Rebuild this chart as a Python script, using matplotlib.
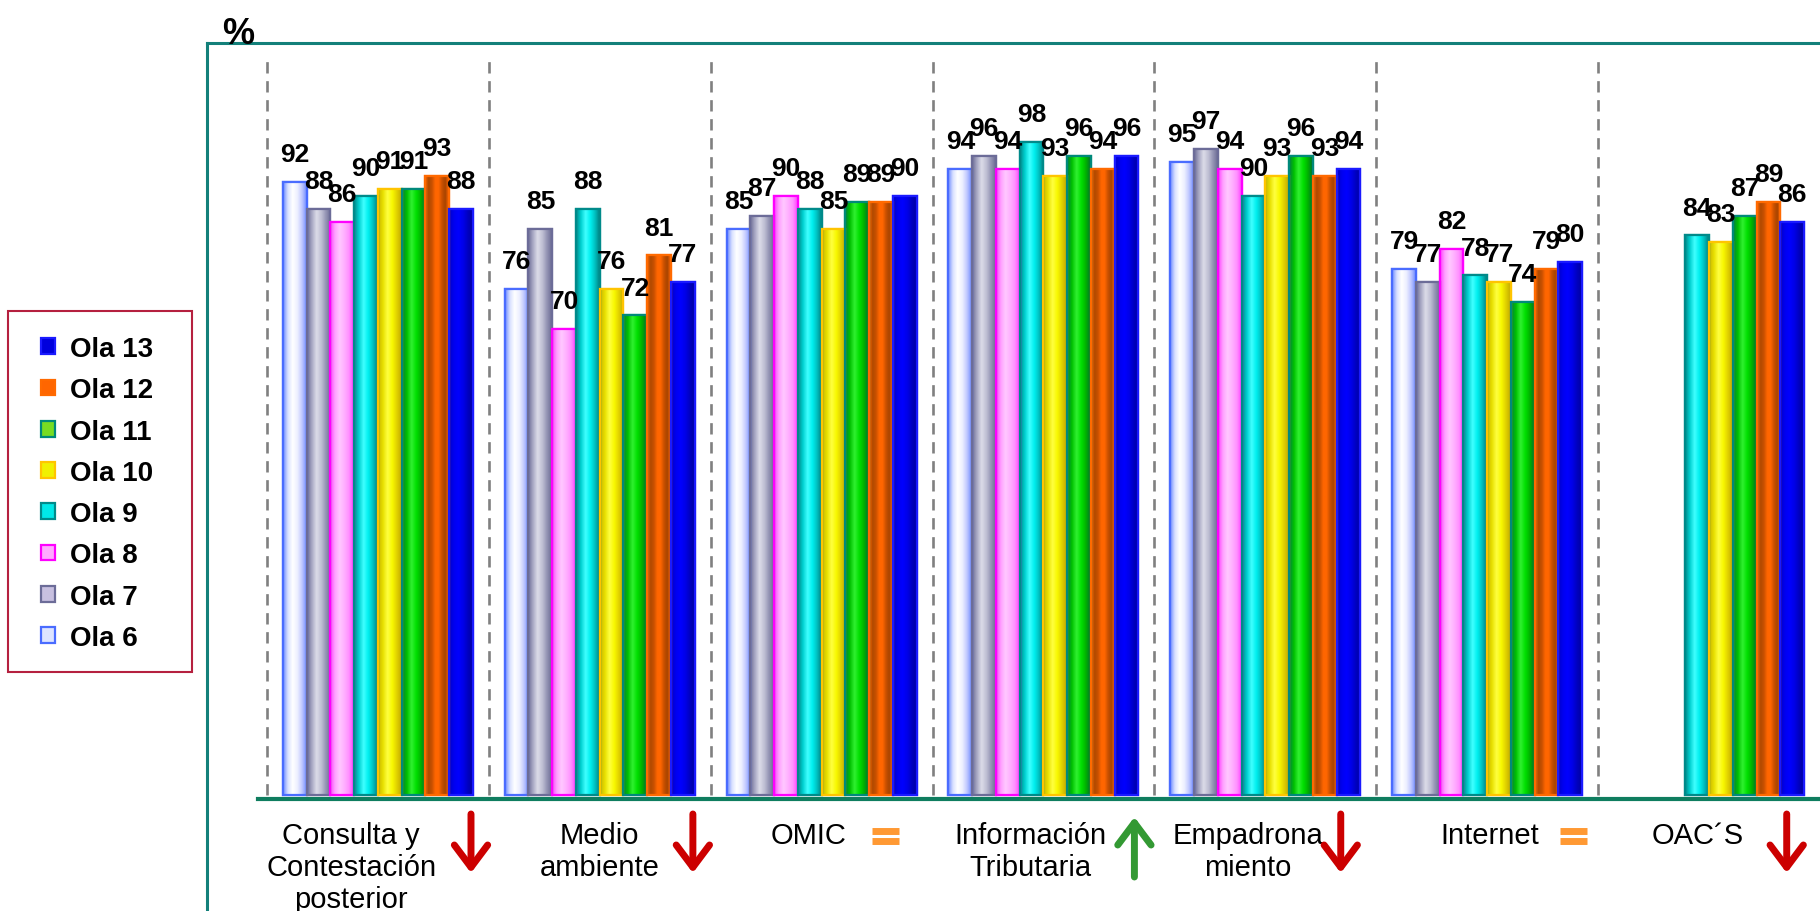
import numpy as np
import matplotlib
matplotlib.use('Agg')
import matplotlib.pyplot as plt
from matplotlib.colors import LinearSegmentedColormap
from matplotlib.lines import Line2D
from matplotlib.patches import Rectangle
from matplotlib.transforms import blended_transform_factory

plt.rcParams['font.family'] = ['Liberation Sans', 'DejaVu Sans']

# datos
categories = ['Consulta y\nContestación\nposterior', 'Medio\nambiente', 'OMIC',
              'Información\nTributaria', 'Empadrona\nmiento', 'Internet', 'OAC´S']
waves = ['Ola 6', 'Ola 7', 'Ola 8', 'Ola 9', 'Ola 10', 'Ola 11', 'Ola 12', 'Ola 13']
ola6 = [92, 76, 85, 94, 95, 79, np.nan]
ola7 = [88, 85, 87, 96, 97, 77, np.nan]
ola8 = [86, 70, 90, 94, 94, 82, np.nan]
ola9 = [90, 88, 88, 98, 90, 78, 84]
ola10 = [91, 76, 85, 93, 93, 77, 83]
ola11 = [91, 72, 89, 96, 96, 74, 87]
ola12 = [93, 81, 89, 94, 93, 79, 89]
ola13 = [88, 77, 90, 96, 94, 80, 86]
trend = ['down', 'down', 'equal', 'up', 'down', 'equal', 'down']

series = [ola6, ola7, ola8, ola9, ola10, ola11, ola12, ola13]

# estilos
face = ['#dde4ff', '#c8c0e0', '#ffaaff', '#00e8e8', '#f0f000', '#77dd22', '#ff6600', '#0000dd']
edge = ['#4a6cff', '#6c6c98', '#ff00ff', '#008a8a', '#ffc400', '#00897a', '#ff6a00', '#1a1aff']
shades = [
    ['#6f8cff', '#d8e0ff', '#ffffff', '#eef0ff', '#c0c8ff', '#6f8cff'],
    ['#6c6c94', '#a8a8c4', '#dcdce8', '#c0c0d4', '#9494b4', '#6c6c94'],
    ['#ff40ff', '#ffa0ff', '#ffc8ff', '#ffb0ff', '#ff90ff', '#ff40ff'],
    ['#008c8c', '#00d0d0', '#40ffff', '#00f0f0', '#00c0c0', '#008080'],
    ['#c8b400', '#e8e000', '#ffff40', '#f8f800', '#e0d000', '#c0a800'],
    ['#008040', '#00c000', '#30f030', '#00e000', '#00b000', '#007030'],
    ['#ff6600', '#b04a00', '#c85000', '#ff6600', '#ff6600', '#c85000', '#a84400', '#ff6600'],
    ['#0000c8', '#0000f0', '#0000ff', '#0000e8', '#0000c0', '#0000a0'],
]
text_dx = [-0.12, 0.0, -0.06, -0.06, -0.08, 0.01, -0.05]
icon_dx = [0.42, 0.42, 0.29, 0.41, 0.34, 0.39, 0.35]

W, H = 1820, 912
fig = plt.figure(figsize=(W / 100, H / 100), dpi=100)
ax = fig.add_axes([258 / W, 1 - 800 / H, 1 - 258 / W, (800 - 44) / H])

bw = 0.107
x = np.arange(len(categories))
grad = np.linspace(0, 1, 64)[np.newaxis, :]
containers = []
for i, (name, vals) in enumerate(zip(waves, series)):
    xs = x + (i - 3.5) * bw
    bars = ax.bar(xs, vals, bw, color=face[i], edgecolor=edge[i], linewidth=1.6,
                  zorder=3, label=name)
    containers.append(bars)
    cmap = LinearSegmentedColormap.from_list(name, shades[i])
    for rect in bars:
        h = rect.get_height()
        if np.isnan(h):
            continue
        x0 = rect.get_x()
        im = ax.imshow(grad, cmap=cmap, extent=(x0, x0 + rect.get_width(), 0, h),
                       aspect='auto', interpolation='bilinear', zorder=3.2)
        im.set_clip_path(rect)
    ax.bar(xs, vals, bw, facecolor='none', edgecolor=edge[i], linewidth=1.6, zorder=3.4)
    for xv, v in zip(xs, vals):
        if np.isnan(v):
            continue
        ax.annotate('{:.0f}'.format(v), (xv, v), xytext=(0, 20), textcoords='offset points',
                    ha='center', va='center', fontsize=19, fontweight='bold', zorder=5)

# separadores
ax.vlines(x - 0.5, 0, 111.3, colors='#808080', linestyles=(0, (4.3, 2.9)),
          linewidth=1.9, zorder=1)

ax.set_xlim(-0.54, 6.5)
ax.set_ylim(-0.6, 112.9)
for s in ['top', 'left', 'right']:
    ax.spines[s].set_visible(False)
ax.spines['bottom'].set_color('#0f7d5f')
ax.spines['bottom'].set_linewidth(3)
ax.set_xticks([])
ax.set_yticks([])

# etiquetas de categoria y tendencias
tr = blended_transform_factory(ax.transData, fig.transFigure)
arrow = '->, head_length=0.8, head_width=0.6'
for i, lab in enumerate(categories):
    ax.text(i + text_dx[i], 1 - 822 / H, lab, transform=tr, ha='center', va='top',
            fontsize=21, linespacing=1.19, multialignment='center', clip_on=False)
    xi = i + icon_dx[i]
    if trend[i] == 'down':
        ax.annotate('', xy=(xi, 1 - 874 / H), xytext=(xi, 1 - 815 / H),
                    xycoords=tr, textcoords=tr, annotation_clip=False,
                    arrowprops=dict(arrowstyle=arrow, color='#cc0000', lw=5,
                                    mutation_scale=20, shrinkA=0, shrinkB=0))
    elif trend[i] == 'up':
        ax.annotate('', xy=(xi, 1 - 818 / H), xytext=(xi, 1 - 878 / H),
                    xycoords=tr, textcoords=tr, annotation_clip=False,
                    arrowprops=dict(arrowstyle=arrow, color='#339933', lw=5,
                                    mutation_scale=20, shrinkA=0, shrinkB=0))
    else:
        for yy in (831.5, 841.5):
            ax.plot([xi - 0.061, xi + 0.061], [1 - yy / H] * 2, transform=tr,
                    color='#ff9933', lw=5, solid_capstyle='butt', clip_on=False)

# leyenda
leg = ax.legend(containers[::-1], waves[::-1], loc='upper left',
                bbox_to_anchor=(41 / W, 1 - 337 / H), bbox_transform=fig.transFigure,
                frameon=False, borderpad=0, borderaxespad=0, handlelength=0.5,
                handleheight=0.5, handletextpad=0.54, labelspacing=0.55,
                prop=dict(size=20, weight='bold'))
fig.add_artist(Rectangle((8 / W, 1 - 673 / H), (192 - 8) / W, (673 - 312) / H,
                         transform=fig.transFigure, fill=False, edgecolor='#b5203f', lw=1.5))

# marco
teal = '#13807a'
fig.add_artist(Line2D([207 / W, 207 / W], [0, 1 - 44 / H], transform=fig.transFigure,
                      color=teal, lw=2.2))
fig.add_artist(Line2D([207 / W, 1], [1 - 44 / H, 1 - 44 / H], transform=fig.transFigure,
                      color=teal, lw=2.2))
fig.text(238 / W, 1 - 35 / H, '%', ha='center', va='center', fontsize=26, fontweight='bold')

fig.savefig('out.png', dpi=100)
